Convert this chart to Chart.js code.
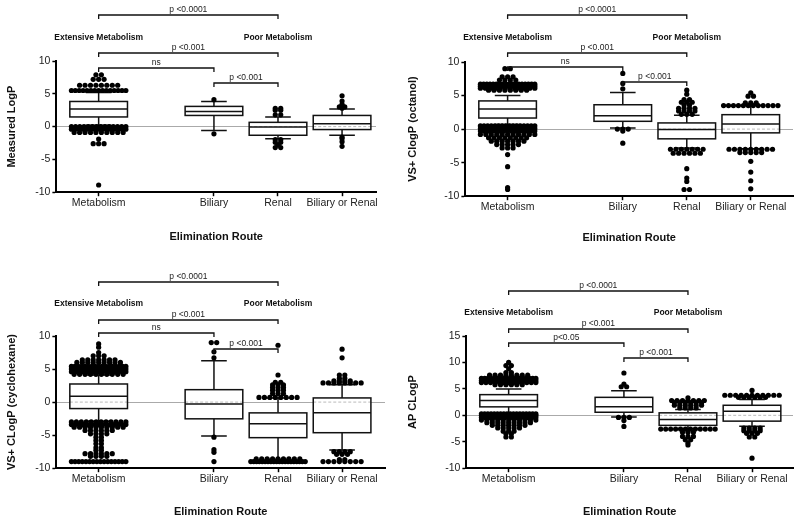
<!DOCTYPE html>
<html>
<head>
<meta charset="utf-8">
<script src="https://cdn.jsdelivr.net/npm/chart.js@4.4.1/dist/chart.umd.min.js"></script>
<style>
	html, body { margin: 0; padding: 0; background: #fff; }
	#wrap { position: relative; width: 800px; height: 522px; }
	#wrap canvas { position: absolute; }
</style>
</head>
<body>
<div id="wrap">
	<canvas id="c1" width="400" height="261" style="left:0;top:0"></canvas>
	<canvas id="c2" width="400" height="261" style="left:400px;top:0"></canvas>
	<canvas id="c3" width="400" height="261" style="left:0;top:261px"></canvas>
	<canvas id="c4" width="400" height="261" style="left:400px;top:261px"></canvas>
</div>
<script>
	//DATA
	const categories = ['Metabolism', 'Biliary', 'Renal', 'Biliary or Renal'];
	const categoryX = [0, 1.8, 2.8, 3.8];
	const xTitle = 'Elimination Route';
	const yTitles = ['Measured LogP', 'VS+ ClogP (octanol)', 'VS+ CLogP (cyclohexane)', 'AP CLogP'];
	const groupLabels = ['Extensive Metabolism', 'Poor Metabolism'];
	const groupAt = [0, 2];

	//comparison brackets: from category, to category, label
	const bracketFrom = [0, 0, 0, 1];
	const bracketTo = [2, 2, 1, 2];
	const bracketText = ['p <0.0001', 'p <0.001', 'ns', 'p <0.001'];
	const bracketTextAP = ['p <0.0001', 'p <0.001', 'p<0.05', 'p <0.001'];

	//box stats per category: [whisker low, q1, median, q3, whisker high]
	const logpBox = [
		[0.2, 1.47, 2.68, 3.83, 5.2],
		[-0.6, 1.7, 2.3, 3.08, 3.83],
		[-1.86, -1.32, -0.05, 0.65, 1.47],
		[-1.32, -0.45, 0.45, 1.7, 2.68]
	];
	//points outside whiskers per category: [value, how many]
	const logpPoints = [
		[[7.9, 2], [7.2, 3], [6.3, 8], [5.5, 15], [0.0, 14], [-0.4, 15], [-0.9, 10], [-1.9, 1], [-2.6, 3], [-8.9, 1]],
		[[4.1, 1], [-1.1, 1]],
		[[2.8, 2], [2.5, 2], [1.8, 2], [-2.0, 2], [-2.4, 2], [-2.8, 1], [-3.2, 2]],
		[[4.7, 1], [3.9, 1], [3.4, 1], [3.0, 2], [2.8, 1], [-1.6, 1], [-1.8, 1], [-2.3, 1], [-3.0, 1]]
	];

	const octanolBox = [
		[0.67, 1.65, 2.98, 4.2, 5.0],
		[0.17, 1.16, 2.0, 3.63, 5.45],
		[-2.8, -1.45, -0.07, 0.92, 2.05],
		[-2.93, -0.56, 0.77, 2.15, 3.5]
	];
	const octanolPoints = [
		[[9.0, 2], [7.8, 3], [7.3, 4], [6.7, 18], [6.4, 16], [6.1, 12], [5.8, 8],
		 [0.5, 16], [0.1, 18], [-0.3, 15], [-0.8, 11], [-1.3, 8], [-1.8, 7], [-2.3, 5], [-2.8, 3], [-3.8, 1], [-5.6, 1], [-8.7, 1], [-9.0, 1]],
		[[8.3, 1], [6.8, 1], [6.0, 1], [0.0, 3], [-0.3, 1], [-2.1, 1]],
		[[5.8, 1], [5.2, 1], [4.4, 2], [4.0, 3], [3.6, 2], [3.1, 4], [2.7, 4], [2.2, 3], [-3.0, 7], [-3.6, 6], [-5.9, 1], [-7.3, 1], [-7.8, 1], [-9.0, 2]],
		[[5.4, 1], [4.9, 2], [3.9, 3], [3.5, 12], [-3.0, 9], [-3.5, 5], [-4.8, 1], [-6.4, 1], [-7.7, 1], [-8.9, 1]]
	];

	const cyclohexaneBox = [
		[-2.9, -0.98, 0.87, 2.74, 4.1],
		[-5.14, -2.53, -0.27, 1.88, 6.24],
		[-8.65, -5.38, -3.28, -1.63, 0.63],
		[-7.25, -4.63, -1.63, 0.63, 2.63]
	];
	const cyclohexanePoints = [
		[[8.8, 1], [8.3, 1], [7.5, 1], [7.0, 3], [6.4, 7], [6.0, 9], [5.4, 17], [5.0, 17], [4.6, 15], [4.2, 10],
		 [-3.0, 12], [-3.4, 15], [-3.8, 10], [-4.3, 6], [-4.8, 4], [-5.3, 2], [-5.8, 2], [-6.3, 2], [-6.9, 2], [-7.3, 2], [-7.8, 6], [-8.2, 4], [-9.0, 16]],
		[[9.0, 2], [7.6, 1], [6.7, 1], [-5.3, 1], [-7.2, 1], [-7.6, 1], [-9.0, 1]],
		[[8.6, 1], [4.1, 1], [3.0, 2], [2.6, 3], [2.2, 3], [1.8, 3], [1.3, 3], [0.7, 8], [-8.6, 9], [-9.0, 20]],
		[[8.0, 1], [6.7, 1], [4.1, 2], [3.6, 2], [3.2, 4], [2.9, 8], [-7.5, 4], [-7.9, 3], [-8.7, 2], [-9.0, 8]]
	];

	const apBox = [
		[0.47, 1.6, 2.78, 3.91, 5.0],
		[-0.3, 0.58, 1.6, 3.4, 4.66],
		[-2.5, -1.9, -0.8, 0.47, 1.1],
		[-2.05, -1.1, 0.78, 1.9, 3.0]
	];
	const apPoints = [
		[[10.0, 1], [9.4, 2], [8.8, 1], [8.1, 2], [7.6, 8], [7.0, 18], [6.6, 17], [6.2, 13], [5.8, 6],
		 [0.3, 18], [0.0, 18], [-0.4, 15], [-0.9, 11], [-1.4, 9], [-1.9, 7], [-2.4, 5], [-3.0, 3], [-3.5, 2], [-4.1, 2]],
		[[8.0, 1], [5.9, 1], [5.4, 2], [-0.4, 3], [-1.0, 1], [-2.1, 1]],
		[[3.3, 1], [2.8, 7], [2.4, 6], [1.9, 6], [1.4, 4], [-2.6, 12], [-3.2, 3], [-4.0, 3], [-4.6, 2], [-5.2, 1], [-5.6, 1]],
		[[4.7, 1], [3.8, 11], [3.4, 6], [-2.4, 4], [-2.9, 4], [-3.4, 3], [-4.1, 2], [-8.1, 1]]
	];

	//LOOK OF THE PANELS
	const FONT = '"Liberation Sans", Arial, sans-serif';
	const X_MIN = -0.66;
	const BOX_HALF = 0.45;
	const CAP_HALF = 0.2;
	const DOT_STEP = 0.085;
	const ROW_MAX = 0.85;

	const panels = [
		{ id: 'c1', yTitle: yTitles[0], box: logpBox, points: logpPoints, yMax: 10, texts: bracketText,
			xMax: 4.33, pad: { top: 61, right: 24, bottom: 17, left: 4 }, yTitlePad: 15, xTitlePad: 20,
			bracketY: [-46, -8, 7, 22], groupY: -23 },
		{ id: 'c2', yTitle: yTitles[1], box: octanolBox, points: octanolPoints, yMax: 10, texts: bracketText,
			xMax: 4.46, pad: { top: 62, right: 7, bottom: 16, left: 5 }, yTitlePad: 23, xTitlePad: 17,
			bracketY: [-47, -9, 5, 20], groupY: -24 },
		{ id: 'c3', yTitle: yTitles[2], box: cyclohexaneBox, points: cyclohexanePoints, yMax: 10, texts: bracketText,
			xMax: 4.47, pad: { top: 75, right: 15, bottom: 3, left: 4 }, yTitlePad: 15, xTitlePad: 19,
			bracketY: [-54, -16, -3, 13], groupY: -32 },
		{ id: 'c4', yTitle: yTitles[3], box: apBox, points: apPoints, yMax: 15, texts: bracketTextAP,
			xMax: 4.44, pad: { top: 75, right: 7, bottom: 3, left: 5 }, yTitlePad: 24, xTitlePad: 19,
			bracketY: [-45, -7, 7, 22], groupY: -23 }
	];

	//rows of equal values spread side by side, like the prism dot plot
	function Swarm(rowsPerCategory) {
		const pts = [];
		rowsPerCategory.forEach((rows, i) => {
			rows.forEach(([v, n]) => {
				let d = DOT_STEP;
				if ((n - 1) * d > ROW_MAX) d = ROW_MAX / (n - 1);
				const w = (n - 1) * d;
				for (let k = 0; k < n; k++) pts.push({ x: categoryX[i] - w / 2 + k * d, y: v });
			});
		});
		return pts;
	}

	function BoxPlugin(panel) {
		return {
			id: 'boxes',
			beforeDatasetsDraw(chart) {
				const { ctx, scales: { x, y } } = chart;
				ctx.save();
				ctx.strokeStyle = '#111';
				ctx.lineWidth = 1.5;
				panel.box.forEach((b, i) => {
					const c = x.getPixelForValue(categoryX[i]);
					const l = x.getPixelForValue(categoryX[i] - BOX_HALF);
					const r = x.getPixelForValue(categoryX[i] + BOX_HALF);
					const cl = x.getPixelForValue(categoryX[i] - CAP_HALF);
					const cr = x.getPixelForValue(categoryX[i] + CAP_HALF);
					const [wLo, q1, med, q3, wHi] = b.map(v => y.getPixelForValue(v));
					ctx.beginPath();
					ctx.moveTo(c, q3); ctx.lineTo(c, wHi);
					ctx.moveTo(cl, wHi); ctx.lineTo(cr, wHi);
					ctx.moveTo(c, q1); ctx.lineTo(c, wLo);
					ctx.moveTo(cl, wLo); ctx.lineTo(cr, wLo);
					ctx.stroke();
					ctx.fillStyle = '#fff';
					ctx.fillRect(l, q3, r - l, q1 - q3);
					if (b[1] < 0 && b[3] > 0) {
						const z = y.getPixelForValue(0);
						ctx.save();
						ctx.strokeStyle = '#bbb';
						ctx.lineWidth = 1;
						ctx.setLineDash([3, 2]);
						ctx.beginPath(); ctx.moveTo(l, z); ctx.lineTo(r, z); ctx.stroke();
						ctx.restore();
					}
					ctx.strokeRect(l, q3, r - l, q1 - q3);
					ctx.beginPath(); ctx.moveTo(l, med); ctx.lineTo(r, med); ctx.stroke();
				});
				ctx.restore();
			},
			afterDraw(chart) {
				const { ctx, chartArea, scales: { x } } = chart;
				ctx.save();
				ctx.strokeStyle = '#111';
				ctx.fillStyle = '#222';
				ctx.lineWidth = 1.3;
				ctx.textAlign = 'center';
				ctx.textBaseline = 'bottom';
				ctx.font = '8.5px ' + FONT;
				bracketFrom.forEach((f, k) => {
					const x1 = x.getPixelForValue(categoryX[f]);
					const x2 = x.getPixelForValue(categoryX[bracketTo[k]]);
					const yy = chartArea.top + panel.bracketY[k];
					ctx.beginPath();
					ctx.moveTo(x1, yy + 4); ctx.lineTo(x1, yy); ctx.lineTo(x2, yy); ctx.lineTo(x2, yy + 4);
					ctx.stroke();
					ctx.fillText(panel.texts[k], (x1 + x2) / 2, yy - 1);
				});
				ctx.font = 'bold 8.5px ' + FONT;
				ctx.fillStyle = '#111';
				ctx.textBaseline = 'middle';
				groupLabels.forEach((g, k) => {
					ctx.fillText(g, x.getPixelForValue(categoryX[groupAt[k]]), chartArea.top + panel.groupY);
				});
				ctx.restore();
			}
		};
	}

	function DrawPanel(panel) {
		const config = {
			type: 'scatter',
			data: {
				datasets: [{
					data: Swarm(panel.points),
					pointRadius: 2.6,
					pointBackgroundColor: '#000',
					pointBorderWidth: 0,
					borderColor: '#000'
				}]
			},
			options: {
				responsive: false,
				animation: false,
				events: [],
				layout: { padding: panel.pad },
				plugins: { legend: { display: false }, tooltip: { enabled: false } },
				scales: {
					x: {
						type: 'linear',
						min: X_MIN,
						max: panel.xMax,
						afterBuildTicks: s => { s.ticks = categoryX.map(v => ({ value: v })); },
						ticks: {
							autoSkip: false, maxRotation: 0, padding: 1, color: '#222',
							font: { family: FONT, size: 10.5 },
							callback: (v, i) => categories[i]
						},
						grid: { display: true, drawOnChartArea: false, tickLength: 4, tickColor: '#000', tickWidth: 1.5 },
						border: { display: true, color: '#000', width: 2 },
						title: {
							display: true, text: xTitle, color: '#111',
							font: { family: FONT, size: 11, weight: 'bold' },
							padding: { top: panel.xTitlePad, bottom: 0 }
						}
					},
					y: {
						min: -10,
						max: panel.yMax,
						ticks: { stepSize: 5, padding: 2, color: '#222', font: { family: FONT, size: 10.5 } },
						grid: {
							color: c => (c.tick && c.tick.value === 0) ? '#aaa' : 'rgba(0,0,0,0)',
							tickColor: '#000', tickLength: 4, tickWidth: 1.5, lineWidth: 1
						},
						border: { display: true, color: '#000', width: 2 },
						title: {
							display: true, text: panel.yTitle, color: '#111',
							font: { family: FONT, size: 11, weight: 'bold' },
							padding: { top: 1, bottom: panel.yTitlePad }
						}
					}
				}
			},
			plugins: [BoxPlugin(panel)]
		};
		return new Chart(document.getElementById(panel.id), config);
	}

	panels.forEach(p => DrawPanel(p));
</script>
</body>
</html>
